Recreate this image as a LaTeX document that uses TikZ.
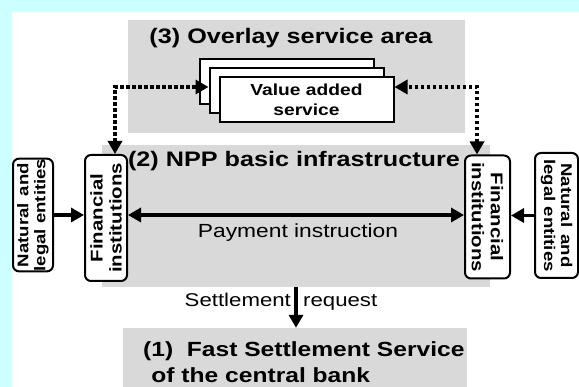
\documentclass[tikz,border=0pt]{standalone}
\usepackage{fontspec}
\setmainfont[FakeStretch=1.2]{Liberation Sans}
\usetikzlibrary{arrows.meta}
\definecolor{skycyan}{HTML}{CCFFFF}
\definecolor{areagray}{HTML}{D9D9D9}

\begin{document}
\begin{tikzpicture}[x=1pt, y=-1pt,
    area/.style={fill=areagray, inner sep=0pt},
    areatitle/.style={font=\bfseries\fontsize{21}{23}\selectfont, inner sep=0pt},
    party/.style={draw, line width=2pt, rounded corners=6pt, fill=white, inner sep=0pt, align=center, font=\bfseries\fontsize{15.5}{17}\selectfont},
    bank/.style={party, font=\bfseries\fontsize{17}{19}\selectfont},
    service/.style={draw, line width=2pt, fill=white, minimum width=174pt, minimum height=45pt, inner sep=0pt, align=center},
    flow/.style={line width=3.5pt, -{Triangle[length=13pt,width=14pt]}},
    link/.style={line width=4pt, dash pattern=on 3.5pt off 2.5pt, {Triangle[length=13pt,width=14pt]}-{Triangle[length=13pt,width=14pt]}},
  ]
    \useasboundingbox (0,0) rectangle (579,387);
    \fill[skycyan] (0,0) rectangle (579,387);
    \fill[white] (12,12) rectangle (579,387);

    \node[area, minimum width=337pt, minimum height=113pt] (overlay) at (296.5,76.5) {};
    \node[areatitle] (overlaytitle) at (291,38) {(3) Overlay service area};
    \node[service] (vasBack) at (286.5,81.5) {};
    \node[service] (vasMid) at (296.5,90.5) {};
    \node[service, font=\bfseries\fontsize{16}{20}\selectfont] (vasFront) at (306.5,100) {Value added\\service};

    \node[area, minimum width=388pt, minimum height=142pt] (npp) at (296,216) {};
    \node[areatitle] (npptitle) at (294,161) {(2) NPP basic infrastructure};

    \node[area, minimum width=344pt, minimum height=62pt] (fss) at (295,359) {};
    \node[areatitle, align=left, anchor=west, font=\bfseries\fontsize{20.5}{26}\selectfont] (fsstitle) at (143,362) {(1)\ \ Fast Settlement Service\\\hspace*{0.4em}of the central bank};

    \node[bank, rotate=90, minimum width=126pt, minimum height=42pt] (fiL) at (106,218) {Financial\\institutions};
    \node[bank, rotate=-90, minimum width=123pt, minimum height=45pt] (fiR) at (487.5,217) {Financial\\institutions};
    \node[party, rotate=90, minimum width=110pt, minimum height=40pt] (nlL) at (33,215) {Natural\hspace{0.45em}and\\legal entities};
    \node[party, rotate=-90, minimum width=125pt, minimum height=43pt] (nlR) at (556.5,215.5) {Natural\hspace{0.45em}and\\legal entities};

    \draw[flow] (nlL) -- (nlL -| fiL.north);
    \draw[flow] (nlR) -- (nlR -| fiR.north);
    \draw[flow, {Triangle[length=13pt,width=14pt]}-{Triangle[length=13pt,width=14pt]}] ([yshift=3pt]fiL.south) -- ([yshift=3pt]fiL.south -| fiR.south);
    \node[font=\fontsize{19}{21}\selectfont] (payment) at (298,233) {Payment instruction};

    \draw[link] ([xshift=9pt]fiL.east) |- ([yshift=3.5pt]vasMid.west);
    \draw[link] ([xshift=-10.5pt]fiR.west) |- ([yshift=13pt]vasFront.east);

    \node[font=\fontsize{18.5}{21}\selectfont] (settle) at (281,302) {Settlement\ \ request};
    \draw[flow] (npp.south) -- (npp.south |- fss.north);
  \end{tikzpicture}
\end{document}
